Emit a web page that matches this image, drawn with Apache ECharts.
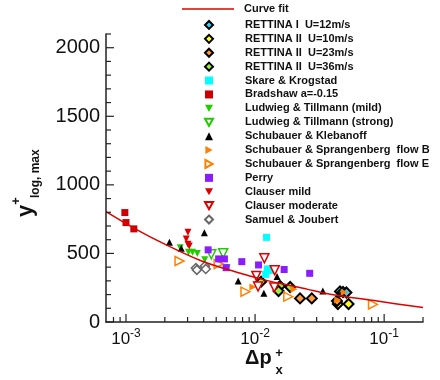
<!DOCTYPE html>
<html><head><meta charset="utf-8">
<script src="https://cdn.jsdelivr.net/npm/echarts@6/dist/echarts.min.js"></script>
<style>html,body{margin:0;padding:0;background:#fff}#c{width:440px;height:380px;background:#fff}</style>
</head><body><div id="c"></div>
<script>
// axis ranges and ticks
const xMin = 7e-4, xMax = 0.2;
const yMin = 0, yMax = 2100;
const xMajorTicks = [1e-3, 1e-2, 1e-1];
const xMinorTicks = [8e-4, 9e-4, 2e-3, 3e-3, 4e-3, 5e-3, 6e-3, 7e-3, 8e-3, 9e-3,
  2e-2, 3e-2, 4e-2, 5e-2, 6e-2, 7e-2, 8e-2, 9e-2, 2e-1];
const yMajorTicks = [0, 500, 1000, 1500, 2000];
const yMinorTicks = [100, 200, 300, 400, 600, 700, 800, 900, 1100, 1200, 1300, 1400,
  1600, 1700, 1800, 1900, 2100];

// data [dp_x+, y+_log,max]
const curveFit = [[7e-4,805],[1.15e-3,685],[2.07e-3,560],[3.77e-3,448],[5.69e-3,392],[7.71e-3,356],[1.045e-2,320],[1.58e-2,280],[2.56e-2,238],[3.2e-2,217],[4.5e-2,192],[8.35e-2,156],[0.2,105]];
const rettina1 = [[4.55e-2,223],[4.80e-2,219],[5.10e-2,215]];
const rettina2U10 = [[4.38e-2,131],[5.30e-2,131]];
const rettina2U23 = [[2.23e-2,172],[2.75e-2,172],[4.31e-2,153]];
const rettina2U36 = [[1.114e-2,294],[1.56e-2,263],[1.52e-2,226],[1.87e-2,255]];
const skare = [[1.227e-2,617],[1.245e-2,387],[1.32e-2,376],[1.208e-2,347]];
const bradshaw = [[9.8e-4,798],[1.0e-3,725],[1.15e-3,679]];
const ludwiegMild = [[2.63e-3,542],[3.05e-3,509],[3.28e-3,509],[3.57e-3,499],[4.07e-3,453],[6.08e-3,396]];
const ludwiegStrong = [[4.58e-3,494],[5.66e-3,501]];
const schubKleb = [[2.17e-3,582],[2.68e-3,538],[4.05e-3,650],[7.4e-3,299],[1.17e-2,209],[1.48e-2,331],[3.35e-2,226]];
const flowB = [[9.62e-3,255],[2.0e-2,239],[4.37e-2,161],[4.91e-2,217]];
const flowE = [[2.6e-3,445],[5.22e-3,423],[8.43e-3,221],[1.81e-2,185],[8.2e-2,128]];
const perry = [[4.33e-3,526],[5.22e-3,460],[5.79e-3,460],[5.97e-3,396],[7.89e-3,440],[1.064e-2,416],[1.68e-2,383],[2.65e-2,355]];
const clauserMild = [[3.02e-3,655],[2.93e-3,606],[3.02e-3,567],[3.09e-3,555]];
const clauserModerate = [[1.18e-2,465],[1.42e-2,377],[1.023e-2,336],[1.055e-2,259],[1.41e-2,252]];
const samuel = [[3.48e-3,394],[3.54e-3,380],[4.09e-3,409],[4.15e-3,387]];

const FONT = '"Liberation Sans", Arial, sans-serif';
const DOWN = 'path://M0,0L10,0L5,9Z';
const RIGHT = 'path://M0,0L9,5L0,10Z';
const TICK_MAJOR = 8, TICK_MINOR = 5;

function sc(name, data, symbol, size, fill, border, bw, rot, icon) {
  return {type:'scatter', name, data, symbol, symbolSize:size, symbolRotate:rot||0,
    legendIcon:icon || symbol,
    itemStyle:{color:fill, borderColor:border, borderWidth:bw, opacity:1}};
}

const series = [
  {type:'line', name:'Curve fit', data:curveFit, smooth:0.3, symbol:'none', showSymbol:false,
   lineStyle:{color:'#e00000', width:1.5}, itemStyle:{color:'#e00000'}},
  sc('RETTINA I  U=12m/s', rettina1, 'diamond', 10, '#40d0f0', '#000', 2),
  sc('RETTINA II  U=10m/s', rettina2U10, 'diamond', 10, '#ffff20', '#000', 2),
  sc('RETTINA II  U=23m/s', rettina2U23, 'diamond', 10, '#ff9a40', '#000', 2),
  sc('RETTINA II  U=36m/s', rettina2U36, 'diamond', 10, '#99ee44', '#000', 2),
  sc('Skare & Krogstad', skare, 'rect', 7, '#00ffff', '#00ffff', 0),
  sc('Bradshaw a=-0.15', bradshaw, 'rect', 7, '#cc0000', '#cc0000', 0),
  sc('Ludwieg & Tillmann (mild)', ludwiegMild, 'triangle', 7, '#22cc00', '#22cc00', 0, 180, DOWN),
  sc('Ludwieg & Tillmann (strong)', ludwiegStrong, 'triangle', 9, '#ffffff', '#22cc00', 1.5, 180, DOWN),
  sc('Schubauer & Klebanoff', schubKleb, 'triangle', 7, '#000000', '#000000', 0),
  sc('Schubauer & Sprangenberg  flow B', flowB, 'triangle', 7, '#ff8000', '#ff8000', 0, -90, RIGHT),
  sc('Schubauer & Sprangenberg  flow E', flowE, 'triangle', 9, '#ffffff', '#ff8000', 1.5, -90, RIGHT),
  sc('Perry', perry, 'rect', 7, '#8a1cff', '#8a1cff', 0),
  sc('Clauser mild', clauserMild, 'triangle', 7, '#dd0000', '#dd0000', 0, 180, DOWN),
  sc('Clauser moderate', clauserModerate, 'triangle', 9, '#ffffff', '#dd0000', 1.5, 180, DOWN),
  sc('Samuel & Joubert', samuel, 'diamond', 9, '#ffffff', '#666666', 1.5)
];

const legendItems = series.slice(1).map(s => ({name:s.name, icon:s.legendIcon, symbolRotate:0}));
series.forEach(s => { delete s.legendIcon; });

const titles = [
  {type:'group', x:0, y:0, children:[
    {type:'text', x:245, y:358, style:{text:'Δp', font:'bold 20px ' + FONT, fill:'#111', align:'left', verticalAlign:'middle'}},
    {type:'text', x:279, y:353, style:{text:'+', font:'bold 13px ' + FONT, fill:'#111', align:'center', verticalAlign:'middle'}},
    {type:'text', x:279, y:370, style:{text:'x', font:'bold 13px ' + FONT, fill:'#111', align:'center', verticalAlign:'middle'}}
  ]},
  {type:'group', x:0, y:217, rotation:Math.PI/2, children:[
    {type:'text', x:0, y:26, style:{text:'y', font:'bold 22px ' + FONT, fill:'#111', align:'left', verticalAlign:'middle'}},
    {type:'text', x:16, y:16, style:{text:'+', font:'bold 13px ' + FONT, fill:'#111', align:'center', verticalAlign:'middle'}},
    {type:'text', x:19, y:36, style:{text:'log, max', font:'bold 12px ' + FONT, fill:'#111', align:'left', verticalAlign:'middle'}}
  ]}
];

const chart = echarts.init(document.getElementById('c'));
chart.setOption({
  animation:false,
  grid:{left:106, right:17, top:34, bottom:58},
  legend:[
    {data:[{name:'Curve fit', icon:'path://M0,0L52,0L52,1.6L0,1.6Z'}], orient:'vertical', left:182, top:2, padding:0,
     itemWidth:52, itemHeight:8, itemGap:0, selectedMode:false,
     textStyle:{fontFamily:FONT, fontWeight:'bold', fontSize:11, color:'#111', lineHeight:14, padding:[0,0,0,5]}},
    {data:legendItems, orient:'vertical', left:204, top:18, padding:0,
     itemWidth:8, itemHeight:8, itemGap:0, selectedMode:false, symbolRotate:0,
     textStyle:{fontFamily:FONT, fontWeight:'bold', fontSize:11, color:'#111', lineHeight:13.9, padding:[0,0,0,27]}}
  ],
  xAxis:{type:'log', logBase:10, min:xMin, max:xMax,
     axisLine:{show:true, lineStyle:{color:'#222', width:1.5}},
     axisTick:{show:false},
     axisLabel:{show:true, customValues:xMajorTicks, margin:6,
       formatter:function(v){ return '{b|10}{s|' + Math.round(Math.log10(v)) + '}'; },
       rich:{b:{fontFamily:FONT, fontSize:17, color:'#111', lineHeight:22},
             s:{fontFamily:FONT, fontSize:12, color:'#111', lineHeight:12, verticalAlign:'top'}}},
     splitLine:{show:false}},
  yAxis:{type:'value', min:yMin, max:yMax, interval:100,
     axisLine:{show:true, lineStyle:{color:'#222', width:1.5}},
     axisTick:{show:false},
     axisLabel:{show:true, margin:6, fontFamily:FONT, fontSize:20, color:'#111',
       formatter:function(v){ return yMajorTicks.indexOf(v) >= 0 ? String(v) : ''; }},
     splitLine:{show:false}},
  series:series
});

// axis ticks: positions come from the chart's own axis scales
function tickLine(value, isX, len) {
  const p = isX ? chart.convertToPixel({gridIndex:0}, [value, yMin])
                : chart.convertToPixel({gridIndex:0}, [xMin, value]);
  const shape = isX ? {x1:p[0], y1:p[1], x2:p[0], y2:p[1] - len}
                    : {x1:p[0], y1:p[1], x2:p[0] + len, y2:p[1]};
  return {type:'line', shape:shape, z:10, silent:true, style:{stroke:'#222', lineWidth:1.2}};
}
const ticks = []
  .concat(xMajorTicks.map(v => tickLine(v, true, TICK_MAJOR)))
  .concat(xMinorTicks.map(v => tickLine(v, true, TICK_MINOR)))
  .concat(yMajorTicks.map(v => tickLine(v, false, TICK_MAJOR)))
  .concat(yMinorTicks.map(v => tickLine(v, false, TICK_MINOR)));

chart.setOption({graphic: titles.concat(ticks)});
</script>
</body></html>
